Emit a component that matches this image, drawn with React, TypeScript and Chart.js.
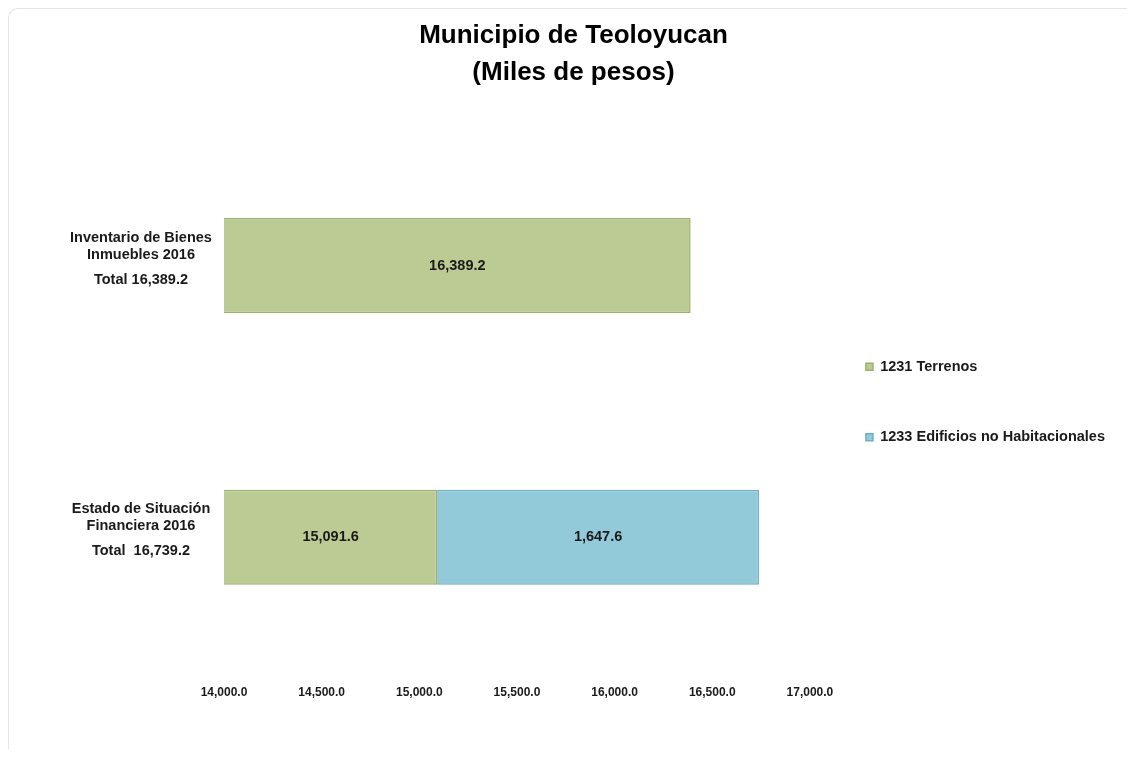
import React, { useEffect, useRef } from "react";
import { Chart, registerables } from "chart.js";

Chart.register(...registerables);

// ---- Data ----
const titleLines = ["Municipio de Teoloyucan", "(Miles de pesos)"];
const categoryLines = [
  ["Inventario de Bienes", "Inmuebles 2016", "Total 16,389.2"],
  ["Estado de Situación", "Financiera 2016", "Total  16,739.2"],
];
const seriesNames = ["1231 Terrenos", "1233 Edificios no Habitacionales"];
const terrenosValues: (number | null)[] = [16389.2, 15091.6];
const edificiosValues: (number | null)[] = [null, 1647.6];
const xMin = 14000;
const xMax = 17000;
const xStep = 500;

// ---- Styles ----
const GREEN = "#bccb93";
const GREEN_BORDER = "#9cb06f";
const BLUE = "#93cada";
const BLUE_BORDER = "#6eaec1";
const TEXT = "#1a1a1a";
const SANS = "'Liberation Sans', Arial, sans-serif";

const fmt = (v: number) =>
  v.toLocaleString("en-US", { minimumFractionDigits: 1, maximumFractionDigits: 1 });

const yLabelPlugin = {
  id: "yLabelPlugin",
  afterDraw(chart: any) {
    const { ctx, chartArea } = chart;
    const y = chart.scales.y;
    ctx.save();
    ctx.font = `bold 14.5px ${SANS}`;
    ctx.fillStyle = TEXT;
    ctx.textAlign = "center";
    ctx.textBaseline = "middle";
    const offsets = [-28, -11, 14];
    categoryLines.forEach((lines, i) => {
      const cy = y.getPixelForValue(i);
      lines.forEach((line, j) => {
        ctx.fillText(line, chartArea.left - 83, cy + offsets[j]);
      });
    });
    ctx.restore();
  },
};

const valueLabelPlugin = {
  id: "valueLabelPlugin",
  afterDatasetsDraw(chart: any) {
    const { ctx, chartArea } = chart;
    ctx.save();
    ctx.font = `bold 14.5px ${SANS}`;
    ctx.fillStyle = TEXT;
    ctx.textAlign = "center";
    ctx.textBaseline = "middle";
    chart.data.datasets.forEach((ds: any, di: number) => {
      const meta = chart.getDatasetMeta(di);
      meta.data.forEach((bar: any, i: number) => {
        const v = ds.data[i];
        if (v == null) return;
        const { x, base, y } = bar.getProps(["x", "base", "y"], true);
        const left = Math.max(Math.min(x, base), chartArea.left);
        const right = Math.min(Math.max(x, base), chartArea.right);
        ctx.fillText(fmt(v), (left + right) / 2, y);
      });
    });
    ctx.restore();
  },
};

export default function App() {
  const canvasRef = useRef<HTMLCanvasElement | null>(null);

  useEffect(() => {
    if (!canvasRef.current) return;
    const chart = new Chart(canvasRef.current, {
      type: "bar",
      data: {
        labels: categoryLines.map((l) => l.join(" ")),
        datasets: [
          {
            label: seriesNames[0],
            data: terrenosValues,
            backgroundColor: GREEN,
            borderColor: GREEN_BORDER,
            borderWidth: 1.5,
            borderSkipped: false,
            categoryPercentage: 1,
            barPercentage: 0.35,
          },
          {
            label: seriesNames[1],
            data: edificiosValues,
            backgroundColor: BLUE,
            borderColor: BLUE_BORDER,
            borderWidth: 1.5,
            borderSkipped: false,
            categoryPercentage: 1,
            barPercentage: 0.35,
          },
        ],
      },
      options: {
        indexAxis: "y",
        animation: false,
        responsive: true,
        maintainAspectRatio: false,
        layout: { padding: { left: 23, right: 12, top: 0, bottom: 36 } },
        scales: {
          x: {
            stacked: true,
            min: xMin,
            max: xMax,
            grid: { display: false },
            border: { display: false },
            ticks: {
              stepSize: xStep,
              padding: 4,
              color: TEXT,
              font: { family: SANS, size: 12, weight: "bold" },
              callback: (v: any) => fmt(Number(v)),
            },
            afterFit: (axis: any) => {
              axis.height = 40;
            },
          },
          y: {
            stacked: true,
            grid: { display: false },
            border: { display: false },
            ticks: { display: false },
            afterFit: (axis: any) => {
              axis.width = 192;
            },
          },
        },
        plugins: {
          title: {
            display: true,
            text: titleLines,
            color: "#000",
            font: { family: SANS, size: 26, weight: "bold", lineHeight: 1.4 },
            padding: { top: 9, bottom: 39 },
          },
          legend: {
            display: true,
            position: "right",
            align: "center",
            maxWidth: 330,
            title: {
              display: true,
              text: "",
              font: { size: 10, lineHeight: 1.2 },
              padding: { top: 70, bottom: 0 },
            },
            labels: {
              boxWidth: 7,
              boxHeight: 7,
              padding: 56,
              color: TEXT,
              font: { family: SANS, size: 14.5, weight: "bold" },
            },
          },
          tooltip: { enabled: false },
        },
      },
      plugins: [yLabelPlugin, valueLabelPlugin],
    } as any);
    return () => chart.destroy();
  }, []);

  return (
    <div
      style={{
        width: 1119,
        height: 741,
        boxSizing: "border-box",
        borderTop: "1px solid #e4e4e4",
        borderLeft: "1px solid #e4e4e4",
        borderTopLeftRadius: 10,
        position: "relative",
      }}
    >
      <canvas ref={canvasRef} />
    </div>
  );
}
